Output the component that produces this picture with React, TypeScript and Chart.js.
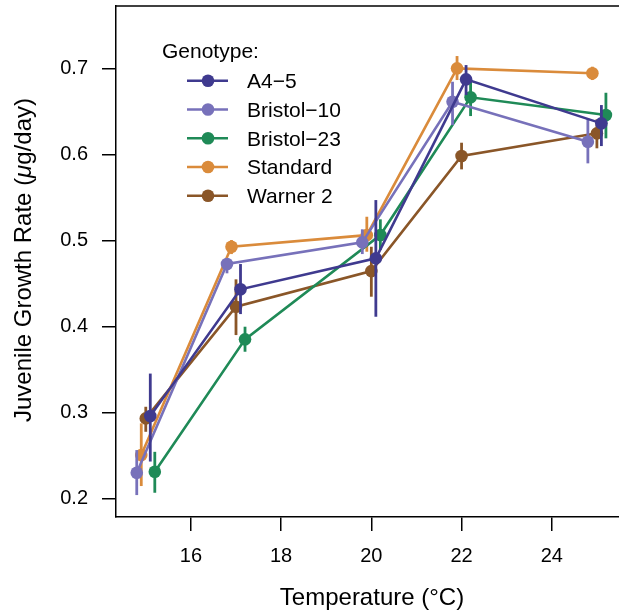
import React, { useEffect, useRef } from "react";
import { Chart, registerables } from "chart.js";

Chart.register(...registerables);

const FONT = "'Liberation Sans', Arial, Helvetica, sans-serif";

const temperatures = [15, 17, 20, 22, 25];
const genotypes = ["A4−5", "Bristol−10", "Bristol−23", "Standard", "Warner 2"];
const colors = ["#3f3a8f", "#7771ba", "#1f8a57", "#da8b3b", "#8a5628"];
// horizontal dodge (°C) per genotype
const dodge = [0.1, -0.2, 0.2, -0.1, 0];

const a45Mean = [0.2956, 0.443, 0.479, 0.6872, 0.636];
const a45Lo = [0.2427, 0.4142, 0.4111, 0.669, 0.6096];
const a45Hi = [0.345, 0.4724, 0.5468, 0.7038, 0.6573];

const b10Mean = [0.2297, 0.4724, 0.4976, 0.6612, 0.6146];
const b10Lo = [0.2037, 0.4616, 0.484, 0.634, 0.5895];
const b10Hi = [0.256, 0.479, 0.5128, 0.6844, 0.6418];

const b23Mean = [0.2308, 0.3848, 0.5061, 0.6663, 0.6457];
const b23Lo = [0.2064, 0.3704, 0.4887, 0.6445, 0.6186];
const b23Hi = [0.254, 0.3995, 0.5244, 0.6884, 0.6716];

const stdMean = [0.2502, 0.4925, 0.506, 0.7, 0.6942];
const stdLo = [0.2142, 0.484, 0.4867, 0.6864, 0.6864];
const stdHi = [0.2871, 0.5003, 0.5274, 0.7143, 0.7019];

const w2Mean = [0.2929, 0.4227, 0.4642, 0.598, 0.6244];
const w2Lo = [0.2773, 0.3898, 0.4344, 0.5825, 0.607];
const w2Hi = [0.3064, 0.4546, 0.4925, 0.6135, 0.6407];

const means = [a45Mean, b10Mean, b23Mean, stdMean, w2Mean];
const lows = [a45Lo, b10Lo, b23Lo, stdLo, w2Lo];
const highs = [a45Hi, b10Hi, b23Hi, stdHi, w2Hi];

const xTicks = [16, 18, 20, 22, 24];
const yTicks = [0.2, 0.3, 0.4, 0.5, 0.6, 0.7];

const legendTitle = "Genotype:";
const xTitle = "Temperature (°C)";
const yTitleParts = ["Juvenile Growth Rate (", "μ", "g/day)"];

export default function App() {
  const ref = useRef<HTMLCanvasElement | null>(null);

  useEffect(() => {
    if (!ref.current) return;

    const datasets = genotypes.map((g, i) => ({
      label: g,
      data: temperatures.map((t, j) => ({
        x: t + dodge[i],
        y: means[i][j],
        lo: lows[i][j],
        hi: highs[i][j],
      })),
      borderColor: colors[i],
      backgroundColor: colors[i],
      pointBackgroundColor: colors[i],
      pointBorderWidth: 0,
      pointRadius: 6.3,
      borderWidth: 2.6,
      fill: false,
      tension: 0,
    }));

    const errorBars = {
      id: "errorBars",
      beforeDatasetDraw(chart: any, args: any) {
        const i = args.index;
        const ds = chart.data.datasets[i];
        const ctx = chart.ctx;
        const xs = chart.scales.x;
        const ys = chart.scales.y;
        ctx.save();
        ctx.strokeStyle = ds.borderColor;
        ctx.lineWidth = 2.8;
        ds.data.forEach((d: any) => {
          const px = xs.getPixelForValue(d.x);
          ctx.beginPath();
          ctx.moveTo(px, ys.getPixelForValue(d.lo));
          ctx.lineTo(px, ys.getPixelForValue(d.hi));
          ctx.stroke();
        });
        ctx.restore();
      },
    };

    const decorations = {
      id: "decorations",
      afterDraw(chart: any) {
        const ctx = chart.ctx;
        const area = chart.chartArea;
        ctx.save();
        // top border of box
        ctx.strokeStyle = "#000";
        ctx.lineWidth = 1.5;
        ctx.beginPath();
        ctx.moveTo(area.left - 0.75, area.top);
        ctx.lineTo(area.right + 2, area.top);
        ctx.stroke();

        // x title
        ctx.fillStyle = "#000";
        ctx.font = `24px ${FONT}`;
        ctx.textAlign = "center";
        ctx.textBaseline = "alphabetic";
        ctx.fillText(xTitle, 372, 605);

        // y title with italic mu
        ctx.save();
        ctx.translate(31, 260);
        ctx.rotate(-Math.PI / 2);
        const fonts = [`24px ${FONT}`, `italic 24px ${FONT}`, `24px ${FONT}`];
        let total = 0;
        const widths = yTitleParts.map((p, k) => {
          ctx.font = fonts[k];
          const w = ctx.measureText(p).width;
          total += w;
          return w;
        });
        let x = -total / 2;
        ctx.textAlign = "left";
        yTitleParts.forEach((p, k) => {
          ctx.font = fonts[k];
          ctx.fillText(p, x, 0);
          x += widths[k];
        });
        ctx.restore();

        // legend
        ctx.font = `21px ${FONT}`;
        ctx.textAlign = "left";
        ctx.textBaseline = "alphabetic";
        ctx.fillStyle = "#000";
        ctx.fillText(legendTitle, 162, 58);
        genotypes.forEach((g, i) => {
          const cy = 80.7 + i * 28.75;
          ctx.strokeStyle = colors[i];
          ctx.lineWidth = 2.6;
          ctx.beginPath();
          ctx.moveTo(187, cy);
          ctx.lineTo(228, cy);
          ctx.stroke();
          ctx.fillStyle = colors[i];
          ctx.beginPath();
          ctx.arc(208, cy, 6.3, 0, Math.PI * 2);
          ctx.fill();
          ctx.fillStyle = "#000";
          ctx.fillText(g, 247, cy + 7.5);
        });
        ctx.restore();
      },
    };

    const chart = new Chart(ref.current, {
      type: "line",
      data: { datasets: datasets as any },
      options: {
        animation: false,
        responsive: false,
        maintainAspectRatio: false,
        layout: { autoPadding: false, padding: { top: 6, right: 0, left: 0, bottom: 0 } },
        plugins: {
          legend: { display: false },
          tooltip: { enabled: false },
        },
        scales: {
          x: {
            type: "linear",
            min: 14.34,
            max: 25.49,
            afterBuildTicks: (axis: any) => {
              axis.ticks = xTicks.map((value) => ({ value }));
            },
            afterFit: (s: any) => {
              s.height = 97;
              s.paddingLeft = 0;
              s.paddingRight = 0;
              s.paddingTop = 0;
              s.paddingBottom = 0;
            },
            ticks: {
              color: "#000",
              font: { size: 20, family: FONT },
              padding: 13,
              maxRotation: 0,
              autoSkip: false,
              callback: (v: any) => String(v),
            },
            grid: {
              display: true,
              drawOnChartArea: false,
              drawTicks: true,
              tickLength: 14,
              color: "#000",
              lineWidth: 1.5,
            },
            border: { display: true, color: "#000", width: 1.5 },
          },
          y: {
            type: "linear",
            min: 0.1782,
            max: 0.7725,
            afterBuildTicks: (axis: any) => {
              axis.ticks = yTicks.map((value) => ({ value }));
            },
            afterFit: (s: any) => {
              s.width = 116;
              s.paddingLeft = 0;
              s.paddingRight = 0;
              s.paddingTop = 0;
              s.paddingBottom = 0;
            },
            ticks: {
              color: "#000",
              font: { size: 20, family: FONT },
              padding: 14,
              autoSkip: false,
              callback: (v: any) => Number(v).toFixed(1),
            },
            grid: {
              display: true,
              drawOnChartArea: false,
              drawTicks: true,
              tickLength: 14,
              color: "#000",
              lineWidth: 1.5,
            },
            border: { display: true, color: "#000", width: 1.5 },
          },
        },
      },
      plugins: [errorBars, decorations],
    });

    return () => chart.destroy();
  }, []);

  return (
    <div style={{ position: "absolute", left: 0, top: 0, width: 619, height: 614, background: "#fff" }}>
      <canvas ref={ref} width={619} height={614} style={{ width: 619, height: 614, display: "block" }} />
    </div>
  );
}
